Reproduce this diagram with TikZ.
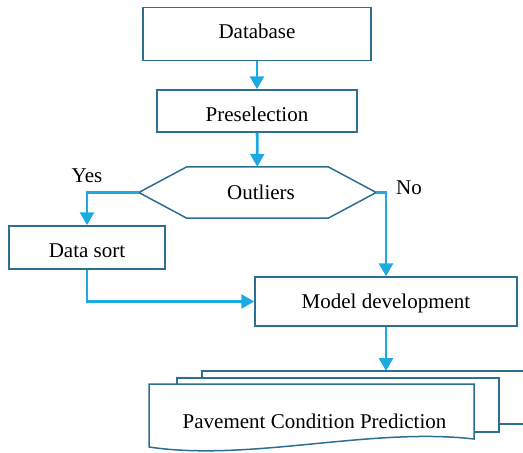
\documentclass[tikz,border=0pt]{standalone}
\usepackage{fontspec}
\setmainfont{Liberation Serif}
\usetikzlibrary{arrows.meta}
\definecolor{edge}{HTML}{2E6E8E}
\definecolor{flow}{HTML}{1DAAE2}
\begin{document}
\begin{tikzpicture}[x=1pt,y=-1pt,
  font=\fontsize{21}{25}\selectfont,
  box/.style={draw=edge,line width=1.5pt,inner sep=0pt},
  plain/.style={inner sep=0pt},
  outline/.style={draw=edge,line width=1.5pt,line join=miter},
  flowline/.style={draw=flow,line width=2.8pt,-{Triangle[length=13pt,width=14pt]}}]
\useasboundingbox (0,0) rectangle (523,453);

% process boxes
\node[box,minimum width=228pt,minimum height=53pt] (db)  at (257,34)    {};
\node[box,minimum width=200pt,minimum height=42pt] (pre) at (257,111)   {};
\node[box,minimum width=156pt,minimum height=43pt] (ds)  at (87,247.5)  {};
\node[box,minimum width=262pt,minimum height=49pt] (md)  at (386,301.5) {};
\node[plain] (dbtxt)  at (257,31.5)  {Database};
\node[plain] (pretxt) at (257,114)   {Preselection};
\node[plain] (dstxt)  at (87,250.5)  {Data sort};
\node[plain] (mdtxt)  at (386,303)   {Model development};

% decision: hexagon around the text node
\node[plain,minimum width=237pt,minimum height=51pt] (out) at (257.5,192.5) {};
\node[plain] (outtxt) at (261,192) {Outliers};
\draw[outline] (out.west) -- ([xshift=48pt]out.north west) -- ([xshift=-48pt]out.north east)
  -- (out.east) -- ([xshift=-48pt]out.south east) -- ([xshift=48pt]out.south west) -- cycle;

% branch labels
\node[plain] (yes) at (87,176) {Yes};
\node[plain] (no)  at (409,188) {No};

% stacked documents
\draw[outline] (202,378) -- (202,371) -- (530,371);
\draw[outline] (499,424) -- (530,424);
\draw[outline] (177,384) -- (177,378) -- (499,378) -- (499,432) -- (474,432);
\draw[outline,fill=white] (149,447) -- (149,384) -- (474,384) -- (474,439)
  .. controls (370,427) and (250,462) .. (149,447) -- cycle;
\node[plain] (pcp) at (314.5,421) {Pavement Condition Prediction};
\coordinate (stack) at (386,371);

% connectors
\draw[flowline] (db) -- (pre);
\draw[flowline] (pre) -- (out);
\draw[flowline] (out.west) -| (ds.north);
\draw[flowline] (out.east) -| (md.north);
\draw[flowline] (ds.south) |- (md.west);
\draw[flowline] (md.south) -- (stack);
\end{tikzpicture}
\end{document}
